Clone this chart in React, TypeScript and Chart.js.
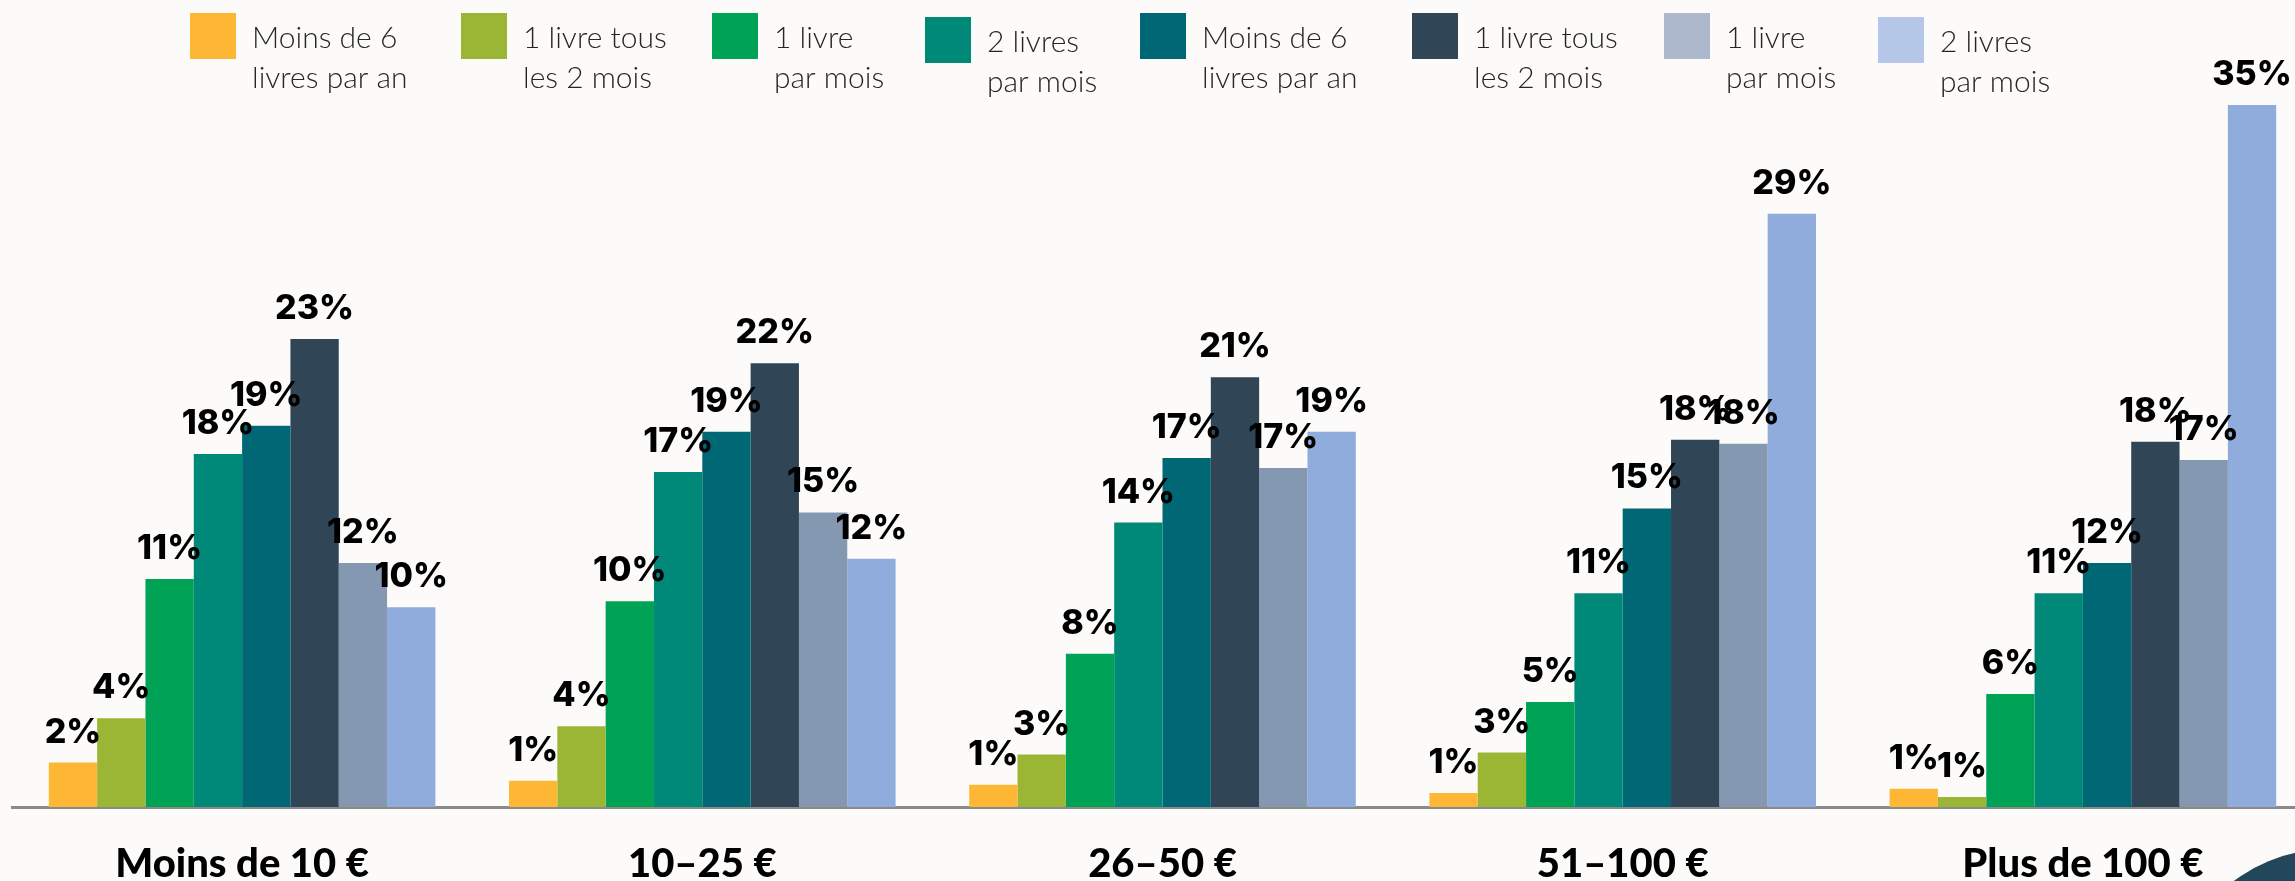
import React, { useEffect, useRef } from "react";
import { Chart, registerables } from "chart.js";

Chart.register(...registerables);

// ---------- DATA ----------
const categories = ["Moins de 10 €", "10–25 €", "26–50 €", "51–100 €", "Plus de 100 €"];

const seriesNames: string[][] = [
  ["Moins de 6", "livres par an"],
  ["1 livre tous", "les 2 mois"],
  ["1 livre", "par mois"],
  ["2 livres", "par mois"],
  ["Moins de 6", "livres par an"],
  ["1 livre tous", "les 2 mois"],
  ["1 livre", "par mois"],
  ["2 livres", "par mois"],
];

// percentages (labels show the rounded value)
const s1 = [2.2, 1.3, 1.1, 0.7, 0.9];
const s2 = [4.4, 4.0, 2.6, 2.7, 0.5];
const s3 = [11.3, 10.2, 7.6, 5.2, 5.6];
const s4 = [17.5, 16.6, 14.1, 10.6, 10.6];
const s5 = [18.9, 18.6, 17.3, 14.8, 12.1];
const s6 = [23.2, 22.0, 21.3, 18.2, 18.1];
const s7 = [12.1, 14.6, 16.8, 18.0, 17.2];
const s8 = [9.9, 12.3, 18.6, 29.4, 34.8];
const seriesValues = [s1, s2, s3, s4, s5, s6, s7, s8];

// ---------- STYLE ----------
const barColors = ["#FDB735", "#9BB535", "#00A355", "#008878", "#006874", "#304656", "#8598B1", "#90ACDC"];
const legendColors = ["#FDB735", "#9BB535", "#00A355", "#008878", "#006874", "#304656", "#ADB8CC", "#B4C7E9"];
const legendBoxX = [190, 461, 712, 925, 1140, 1412, 1664, 1878];
const legendShiftY = [0, 0, 0, 4, 0, 0, 0, 4];
const BG = "#FCFBF9";

const W = 2320;
const H = 881;

const bgPlugin = {
  id: "bg",
  beforeDraw(chart: any) {
    const ctx = chart.ctx;
    ctx.save();
    ctx.fillStyle = BG;
    ctx.fillRect(0, 0, chart.width, chart.height);
    ctx.restore();
  },
};

const decoPlugin = {
  id: "deco",
  afterDraw(chart: any) {
    const ctx = chart.ctx;
    ctx.save();
    ctx.fillStyle = "#23475A";
    ctx.beginPath();
    ctx.arc(2330, 1010, 161, 0, Math.PI * 2);
    ctx.fill();
    ctx.restore();
  },
};

const legendPlugin = {
  id: "customLegend",
  afterDraw(chart: any) {
    const ctx = chart.ctx;
    ctx.save();
    chart.data.datasets.forEach((ds: any, i: number) => {
      const x = legendBoxX[i];
      const dy = legendShiftY[i];
      ctx.fillStyle = legendColors[i];
      ctx.fillRect(x, 13 + dy, 46, 46);
      ctx.fillStyle = "#262626";
      ctx.font = "300 30px Lato";
      ctx.textAlign = "left";
      ctx.textBaseline = "alphabetic";
      const lines: string[] = ds.legendLines;
      lines.forEach((ln, k) => {
        ctx.fillText(ln, x + 62, 48 + dy + k * 40);
      });
    });
    ctx.restore();
  },
};

const valueLabelPlugin = {
  id: "valueLabels",
  afterDatasetsDraw(chart: any) {
    const ctx = chart.ctx;
    ctx.save();
    ctx.fillStyle = "#000";
    ctx.font = "800 34px Inter";
    ctx.textAlign = "center";
    ctx.textBaseline = "alphabetic";
    chart.data.datasets.forEach((ds: any, i: number) => {
      const meta = chart.getDatasetMeta(i);
      meta.data.forEach((bar: any, j: number) => {
        const v = ds.data[j];
        ctx.fillText(Math.round(v) + "%", bar.x, bar.y - 20);
      });
    });
    ctx.restore();
  },
};

const categoryLabelPlugin = {
  id: "catLabels",
  afterDraw(chart: any) {
    const ctx = chart.ctx;
    const xs = chart.scales.x;
    ctx.save();
    ctx.fillStyle = "#000";
    ctx.font = "900 40px Lato";
    ctx.textAlign = "center";
    ctx.textBaseline = "alphabetic";
    chart.data.labels.forEach((lab: string, j: number) => {
      ctx.fillText(lab, xs.getPixelForValue(j), 877);
    });
    ctx.restore();
  },
};

export default function App() {
  const ref = useRef<HTMLCanvasElement | null>(null);

  useEffect(() => {
    document.body.style.margin = "0";
    document.body.style.background = BG;
    if (!ref.current) return;
    const chart = new Chart(ref.current, {
      type: "bar",
      data: {
        labels: categories,
        datasets: seriesValues.map((vals, i) => ({
          label: seriesNames[i].join(" "),
          legendLines: seriesNames[i],
          data: vals,
          backgroundColor: barColors[i],
          borderWidth: 0,
          categoryPercentage: 0.84,
          barPercentage: 1.0,
        })) as any,
      },
      options: {
        animation: false,
        responsive: false,
        devicePixelRatio: 1,
        layout: { padding: { left: 12, right: 7, top: 0, bottom: 74 } },
        plugins: {
          legend: { display: false },
          tooltip: { enabled: false },
          title: { display: false },
        },
        scales: {
          x: {
            grid: { display: false, drawTicks: false },
            ticks: { display: false },
            border: { display: true, color: "#8A8A8A", width: 3 },
          },
          y: {
            display: false,
            min: 0,
            max: 40,
          },
        },
      },
      plugins: [bgPlugin, valueLabelPlugin, categoryLabelPlugin, legendPlugin, decoPlugin],
    });
    return () => chart.destroy();
  }, []);

  return (
    <div style={{ width: 2295, height: H, overflow: "hidden", position: "relative", background: BG }}>
      <canvas ref={ref} width={W} height={H} style={{ width: W, height: H, display: "block" }} />
    </div>
  );
}
